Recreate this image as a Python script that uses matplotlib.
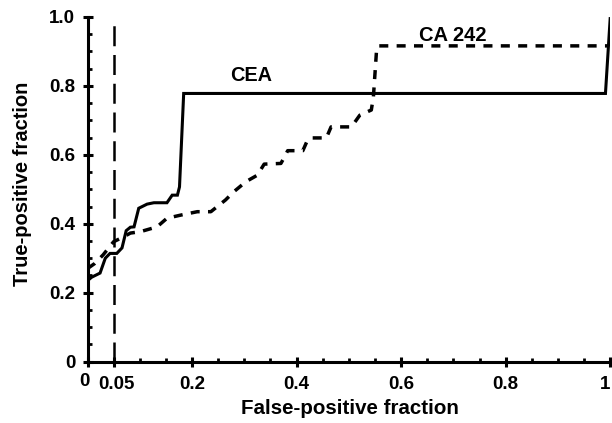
import numpy as np
import matplotlib
matplotlib.use('Agg')
import matplotlib.pyplot as plt
from matplotlib.ticker import MultipleLocator
from matplotlib.transforms import ScaledTranslation

plt.rcParams['font.family'] = ['Liberation Sans', 'DejaVu Sans']
plt.rcParams['font.weight'] = 'bold'

# ROC curve points
cea_fpf = [0.0, 0.008, 0.024, 0.034, 0.043, 0.056, 0.066, 0.074, 0.082, 0.089,
           0.098, 0.114, 0.127, 0.152, 0.162, 0.172, 0.176, 0.184, 0.991, 1.0]
cea_tpf = [0.235, 0.245, 0.257, 0.30, 0.314, 0.314, 0.33, 0.38, 0.39, 0.391,
           0.445, 0.457, 0.461, 0.461, 0.483, 0.483, 0.507, 0.778, 0.778, 0.995]

ca_fpf = [0.0, 0.014, 0.03, 0.05, 0.069, 0.082, 0.101, 0.133, 0.152, 0.178,
          0.21, 0.236, 0.264, 0.28, 0.303, 0.325, 0.338, 0.37, 0.377, 0.383,
          0.412, 0.421, 0.428, 0.457, 0.466, 0.505, 0.521, 0.543, 0.547,
          0.553, 0.556, 0.995]
ca_tpf = [0.27, 0.285, 0.31, 0.348, 0.362, 0.373, 0.377, 0.391, 0.416, 0.425,
          0.435, 0.435, 0.469, 0.493, 0.522, 0.541, 0.573, 0.575, 0.594, 0.612,
          0.612, 0.643, 0.649, 0.649, 0.681, 0.681, 0.715, 0.73, 0.768,
          0.903, 0.916, 0.916]

cutoff = 0.05
xtick_vals = [0, 0.05, 0.2, 0.4, 0.6, 0.8, 1]
xtick_labels = ['0', '0.05', '0.2', '0.4', '0.6', '0.8', '1']
ytick_vals = [0, 0.2, 0.4, 0.6, 0.8, 1.0]
ytick_labels = ['0', '0.2', '0.4', '0.6', '0.8', '1.0']

fig = plt.figure(figsize=(6.12, 4.23), dpi=100)
ax = fig.add_axes([0.143, 0.145, 0.854, 0.815])

ax.plot(cea_fpf, cea_tpf, color='black', lw=2.2, solid_joinstyle='miter')
ax.plot(ca_fpf, ca_tpf, color='black', lw=2.5, linestyle=(0, (2.6, 2.4)))
ax.plot([cutoff, cutoff], [0, 1.0], color='black', lw=1.8,
        linestyle=(0, (8, 3.5)), clip_on=False)

ax.text(0.313, 0.83, 'CEA', ha='center', va='center', fontsize=14.3, fontweight='bold')
ax.text(0.699, 0.945, 'CA 242', ha='center', va='center', fontsize=14.5, fontweight='bold')

ax.set_xlim(0, 1)
ax.set_ylim(0, 1)
for s in ['top', 'right']:
    ax.spines[s].set_visible(False)
for s in ['left', 'bottom']:
    ax.spines[s].set_linewidth(2.2)

ax.set_xticks(xtick_vals)
ax.set_xticklabels(xtick_labels)
ax.set_yticks(ytick_vals)
ax.set_yticklabels(ytick_labels)
ax.xaxis.set_minor_locator(MultipleLocator(0.05))
ax.yaxis.set_minor_locator(MultipleLocator(0.05))
ax.tick_params(which='major', direction='inout', length=7.5, width=2.2,
               labelsize=13.5)
ax.tick_params(axis='x', which='major', pad=6.5)
ax.tick_params(axis='y', which='major', pad=5)
ax.tick_params(which='minor', direction='in', length=3, width=2)
xlabs = ax.get_xticklabels()
for lab in xlabs + ax.get_yticklabels():
    lab.set_fontweight('bold')
# nudge the crowded "0" / "0.05" labels apart, keep "1" inside the figure
xlabs[0].set_transform(xlabs[0].get_transform()
                       + ScaledTranslation(-2 / 72, 2 / 72, fig.dpi_scale_trans))
xlabs[1].set_transform(xlabs[1].get_transform()
                       + ScaledTranslation(2 / 72, 0, fig.dpi_scale_trans))
xlabs[-1].set_horizontalalignment('right')

ax.set_xlabel('False-positive fraction', fontsize=14.8, fontweight='bold')
ax.set_ylabel('True-positive fraction', fontsize=14.5, fontweight='bold')
ax.xaxis.set_label_coords(0.502, -0.108)
ax.yaxis.set_label_coords(-0.107, 0.516)

fig.savefig('out.png', dpi=100)
